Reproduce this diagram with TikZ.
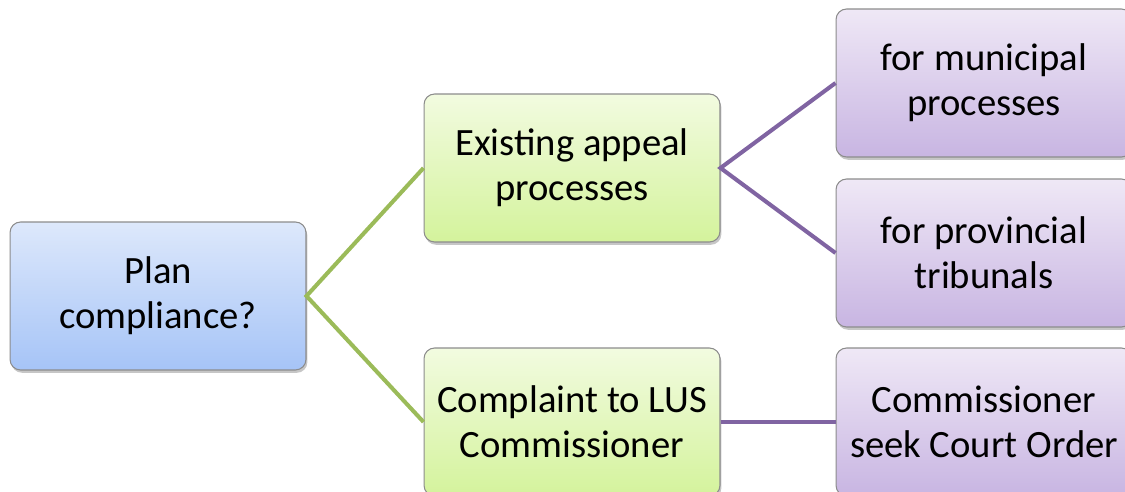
\documentclass[tikz,border=0pt]{standalone}
\usepackage{fontspec}
\setmainfont{Carlito}
\usepackage{tikz}
\usetikzlibrary{shadows}
\definecolor{azularriba}{HTML}{DDE8FB}
\definecolor{azulabajo}{HTML}{A6C4F7}
\definecolor{verdearriba}{HTML}{F2FBE0}
\definecolor{verdeabajo}{HTML}{D4F39C}
\definecolor{moradoarriba}{HTML}{EFE8F6}
\definecolor{moradoabajo}{HTML}{C8B5E2}
\definecolor{lineaverde}{HTML}{9BBB59}
\definecolor{lineamorada}{HTML}{8064A2}
\tikzset{
    caja/.style={
        rectangle, rounded corners=6pt,
        draw=black!45, line width=0.6pt,
        minimum width=5.92cm, minimum height=2.96cm,
        align=center,
        inner sep=2pt,
        font=\fontsize{22}{25.5}\selectfont,
        drop shadow={shadow xshift=0.8pt, shadow yshift=-1.6pt, fill=black!50, opacity=0.45}
    },
    cajaazul/.style={caja, top color=azularriba, bottom color=azulabajo},
    cajaverde/.style={caja, top color=verdearriba, bottom color=verdeabajo},
    cajamorada/.style={caja, top color=moradoarriba, bottom color=moradoabajo},
    enlace/.style={line width=2.3pt}
}
\begin{document}
\begin{tikzpicture}[x=0.02cm, y=-0.02cm]

    \useasboundingbox (0,0) rectangle (1125,492);
    \clip (0,0) rectangle (1125,492);

    \node[cajaazul] (plan) at (158,296) {Plan\\compliance?};

    \node[cajaverde] (apelacion) at (572,168) {Existing appeal\\processes};
    \node[cajaverde] (queja) at (572,422) {Complaint to LUS\\Commissioner};

    \node[cajamorada] (municipal) at (984,83) {for municipal\\processes};
    \node[cajamorada] (provincial) at (984,253) {for provincial\\tribunals};
    \node[cajamorada] (orden) at (984,422) {Commissioner\\seek Court Order};

    \draw[enlace, lineaverde] (apelacion.west) -- (plan.east) -- (queja.west);
    \draw[enlace, lineamorada] (municipal.west) -- (apelacion.east) -- (provincial.west);
    \draw[enlace, lineamorada] (queja) -- (orden);

\end{tikzpicture}
\end{document}
